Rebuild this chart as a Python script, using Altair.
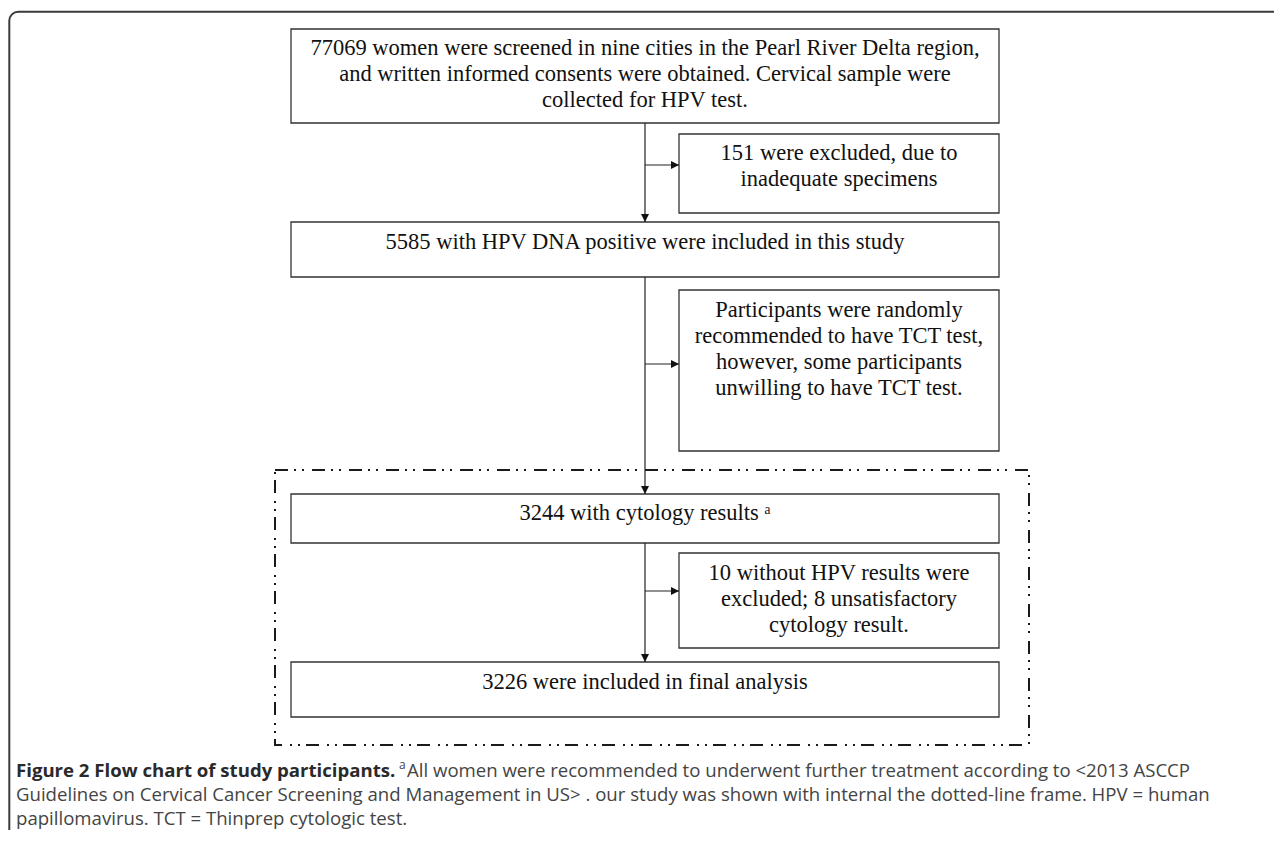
import altair as alt
import pandas as pd

# ---------------- content (text of the flow chart) ----------------
main_texts = [
    ["77069 women were screened in nine cities in the Pearl River Delta region,",
     "and written informed consents were obtained. Cervical sample were",
     "collected for HPV test."],
    ["5585 with HPV DNA positive were included in this study"],
    ["3244 with cytology results \u1d43"],
    ["3226 were included in final analysis"],
]
side_texts = [
    ["151 were excluded, due to", "inadequate specimens"],
    ["Participants were randomly", "recommended to have TCT test,",
     "however, some participants", "unwilling to have TCT test."],
    ["10 without HPV results were", "excluded; 8 unsatisfactory", "cytology result."],
]
caption_bold = "Figure 2 Flow chart of study participants."
caption_sup = "a"
caption_lines = [
    "All women were recommended to underwent further treatment according to <2013 ASCCP",
    "Guidelines on Cervical Cancer Screening and Management in US> . our study was shown with internal the dotted-line frame. HPV = human",
    "papillomavirus. TCT = Thinprep cytologic test.",
]

# ---------------- layout (page pixel coordinates) ----------------
W, H = 1266, 822
X0, Y0 = 8, 8
MAIN_X = (291, 999)
SIDE_X = (679, 999)
main_y = [(29, 123), (222, 277), (494, 543), (662, 717)]
side_y = [(134, 213), (290, 451), (553, 648)]
main_first = [48, 242, 513, 682]
side_first = [153, 310, 573]
LINE_H = 26
SPINE_X = 645
branch_y = [165, 364, 591]
study_frame = (275, 470, 1029, 745)
outer_frame = (9.3, 11.7, 1400, 1000)
cap_x, cap_reg_x, cap_sup_x = 16, 407, 399
cap_y = [771, 795, 819]
CAP_FS = 18.6

# ---------------- build tables ----------------
boxes = pd.DataFrame(
    [dict(x=MAIN_X[0], x2=MAIN_X[1], y=a, y2=b) for a, b in main_y]
    + [dict(x=SIDE_X[0], x2=SIDE_X[1], y=a, y2=b) for a, b in side_y]
)

texts = []
for lines, y in zip(main_texts, main_first):
    for i, t in enumerate(lines):
        texts.append(dict(x=SPINE_X, y=y + i * LINE_H, t=t))
side_cx = (SIDE_X[0] + SIDE_X[1]) / 2
for lines, y in zip(side_texts, side_first):
    for i, t in enumerate(lines):
        texts.append(dict(x=side_cx, y=y + i * LINE_H, t=t))
texts = pd.DataFrame(texts)

# connectors: vertical spine segments and branches
segs = []
for (a, b), (c, d) in zip(main_y[:-1], main_y[1:]):
    segs.append(dict(x=SPINE_X, x2=SPINE_X, y=b, y2=c))
for by in branch_y:
    segs.append(dict(x=SPINE_X, x2=SIDE_X[0], y=by, y2=by))
segs = pd.DataFrame(segs)

AH = 4.0  # arrowhead half-length
heads_down = pd.DataFrame([dict(x=SPINE_X, y=c - AH) for (c, d) in main_y[1:]])
heads_right = pd.DataFrame([dict(x=SIDE_X[0] - AH, y=by) for by in branch_y])

cap_df = pd.DataFrame([dict(x=cap_x, y=cap_y[0], t=caption_bold)])
cap_sup_df = pd.DataFrame([dict(x=cap_sup_x, y=cap_y[0] - 6, t=caption_sup)])
cap_reg = pd.DataFrame(
    [dict(x=cap_reg_x, y=cap_y[0], t=caption_lines[0])]
    + [dict(x=cap_x, y=y, t=t) for y, t in zip(cap_y[1:], caption_lines[1:])]
)
frame_df = pd.DataFrame([dict(x=study_frame[0], y=study_frame[1], x2=study_frame[2], y2=study_frame[3])])
outer_df = pd.DataFrame([dict(x=outer_frame[0], y=outer_frame[1], x2=outer_frame[2], y2=outer_frame[3])])

xs = alt.Scale(domain=[X0, X0 + W], nice=False, zero=False)
ys = alt.Scale(domain=[Y0, Y0 + H], nice=False, zero=False, reverse=True)


def X(f="x"):
    return alt.X(f"{f}:Q", scale=xs, axis=None)


def Y(f="y"):
    return alt.Y(f"{f}:Q", scale=ys, axis=None)


outer = alt.Chart(outer_df).mark_rect(
    fill="transparent", stroke="#3a3a3a", strokeWidth=2, cornerRadius=9, clip=True
).encode(x=X(), x2="x2:Q", y=Y(), y2="y2:Q")

frame = alt.Chart(frame_df).mark_rect(
    fill="transparent", stroke="#1a1a1a", strokeWidth=2, strokeDash=[13, 6, 2, 6, 2, 8]
).encode(x=X(), x2="x2:Q", y=Y(), y2="y2:Q")

box_layer = alt.Chart(boxes).mark_rect(
    fill="white", stroke="#333333", strokeWidth=1.3
).encode(x=X(), x2="x2:Q", y=Y(), y2="y2:Q")

seg_layer = alt.Chart(segs).mark_rule(color="#222222", strokeWidth=1.2).encode(
    x=X(), x2="x2:Q", y=Y(), y2="y2:Q"
)

down = alt.Chart(heads_down).mark_point(
    shape="M-1,-1L1,-1L0,1Z", size=64, filled=True, fill="#111111", strokeWidth=0, opacity=1
).encode(x=X(), y=Y())

right = alt.Chart(heads_right).mark_point(
    shape="M-1,-1L1,0L-1,1Z", size=64, filled=True, fill="#111111", strokeWidth=0, opacity=1
).encode(x=X(), y=Y())

txt = alt.Chart(texts).mark_text(
    font="Liberation Serif", fontSize=22.5, color="#111111", align="center", baseline="middle"
).encode(x=X(), y=Y(), text="t:N")

cap_b = alt.Chart(cap_df).mark_text(
    font="Open Sans", fontSize=CAP_FS, fontWeight="bold", color="#2a2a2a", align="left", baseline="middle"
).encode(x=X(), y=Y(), text="t:N")

cap_s = alt.Chart(cap_sup_df).mark_text(
    font="Open Sans", fontSize=12, color="#444444", align="left", baseline="middle"
).encode(x=X(), y=Y(), text="t:N")

cap_r = alt.Chart(cap_reg).mark_text(
    font="Open Sans", fontSize=CAP_FS, color="#444444", align="left", baseline="middle"
).encode(x=X(), y=Y(), text="t:N")

chart = alt.layer(
    outer, frame, box_layer, seg_layer, down, right, txt, cap_b, cap_s, cap_r
).properties(
    width=W, height=H, padding=0, autosize=alt.AutoSizeParams(type="none")
).configure_view(stroke=None)

chart.save("out.html", embed_options={"renderer": "svg", "actions": False})
